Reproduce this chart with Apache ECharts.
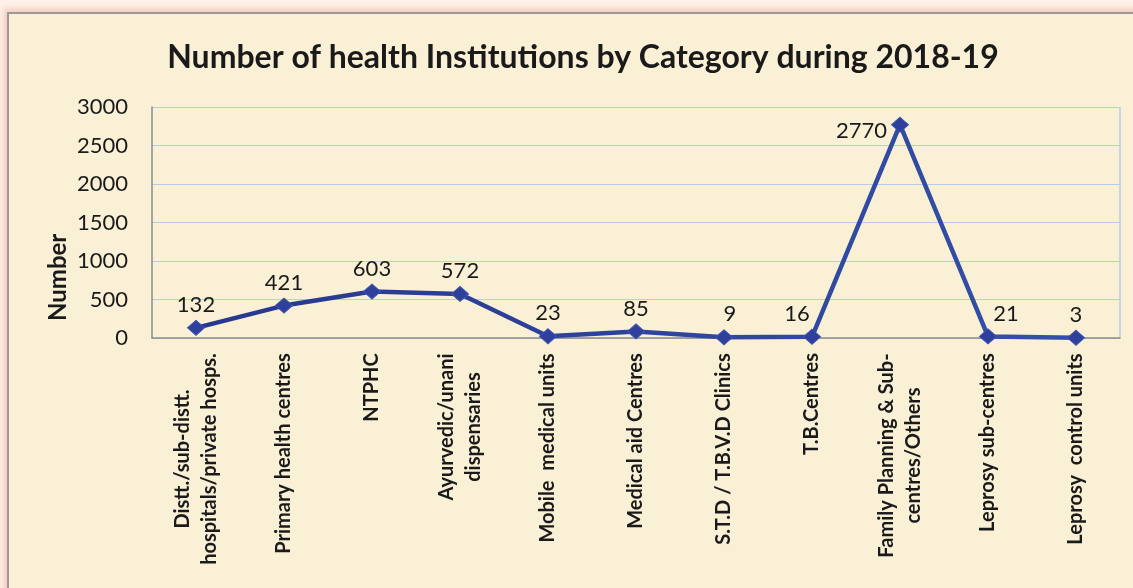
<!DOCTYPE html>
<html>
<head>
<meta charset="utf-8">
<script src="https://cdn.jsdelivr.net/npm/echarts@6/dist/echarts.min.js"></script>
<style>
  html, body { margin: 0; padding: 0; width: 1133px; height: 588px; overflow: hidden; background: #fdf1ea; }
  #frame {
    position: absolute; left: 7px; top: 12px; width: 1140px; height: 600px;
    background: #faf0d6;
    border-left: 2px solid #9a9a9a; border-top: 2px solid #9a9a9a;
    box-shadow: -3px -3px 6px rgba(240,150,120,0.45);
  }
  #chart { position: absolute; left: 0; top: 0; width: 1133px; height: 588px; }
</style>
</head>
<body>
<div id="frame"></div>
<div id="chart"></div>
<script>
// Health institutions by category, 2018-19
const categories = [
  'Distt./sub-distt.\nhospitals/private hosps.',
  'Primary health centres',
  'NTPHC',
  'Ayurvedic/unani\ndispensaries',
  'Mobile  medical units',
  'Medical aid Centres',
  'S.T.D / T.B.V.D Clinics',
  'T.B.Centres',
  'Family Planning & Sub-\ncentres/Others',
  'Leprosy sub-centres',
  'Leprosy  control units'
];
const institutions = [132, 421, 603, 572, 23, 85, 9, 16, 2770, 21, 3];
const yTicks = [0, 500, 1000, 1500, 2000, 2500, 3000];

const FONT = 'Lato';
const XL_SIZE = 20;

// Measure label lines so two-line labels can be centred line by line
const ctx = document.createElement('canvas').getContext('2d');
ctx.font = 'bold ' + XL_SIZE + 'px ' + FONT;
const rich = {};
categories.forEach((c, i) => {
  const w = Math.max(...c.split('\n').map(s => ctx.measureText(s).width));
  rich['r' + i] = { width: Math.ceil(w) + 2, align: 'center', fontWeight: 'bold',
                    fontSize: XL_SIZE, fontFamily: FONT, color: '#1a1a1a', lineHeight: 27 };
});

// Per-point label placement
const labelTweaks = {
  8: { position: 'left', distance: 4, offset: [0, 6] },
  6: { offset: [6, 0] },
  7: { offset: [-15, 0] },
  9: { offset: [18, 0] }
};

const chart = echarts.init(document.getElementById('chart'));
chart.setOption({
  backgroundColor: 'transparent',
  title: {
    text: 'Number of health Institutions by Category during 2018-19',
    left: 578, top: 37, textAlign: 'center',
    textStyle: { fontFamily: FONT, fontWeight: 'bold', fontSize: 32, color: '#1a1a1a' }
  },
  grid: { left: 152, right: 13, top: 107, bottom: 250, containLabel: false },
  xAxis: {
    type: 'category',
    data: categories,
    boundaryGap: true,
    axisLine: { lineStyle: { color: '#8c8c8c', width: 1.5 } },
    axisTick: { show: false },
    axisLabel: {
      interval: 0, rotate: 90, margin: 14,
      formatter: (v, i) => v.split('\n').map(s => '{r' + i + '|' + s + '}').join('\n'),
      rich: rich
    }
  },
  yAxis: {
    type: 'value', min: 0, max: 3000, interval: 500,
    axisLine: { show: true, lineStyle: { color: '#8c8c8c', width: 1.5 } },
    axisTick: { show: false },
    splitLine: { lineStyle: { color: '#b8cbe8', width: 1.2 } },
    axisLabel: {
      margin: 24, fontFamily: FONT, fontSize: 22, color: '#1a1a1a',
      formatter: v => yTicks.includes(v) ? String(v) : ''
    }
  },
  graphic: [
    { type: 'text', rotation: Math.PI / 2, x: 46, y: 321,
      style: { text: 'Number', font: 'bold 24px ' + FONT, fill: '#1a1a1a' } },
    { type: 'rect', shape: { x: 1120, y: 107, width: 0, height: 231 },
      style: { stroke: '#b8cbe8', lineWidth: 1.5 } }
  ],
  series: [{
    type: 'line',
    data: institutions.map((v, i) => labelTweaks[i] ? { value: v, label: labelTweaks[i] } : v),
    symbol: 'diamond',
    symbolSize: [17, 15],
    lineStyle: { width: 4.5, color: {
      type: 'linear', x: 0, y: 0, x2: 1, y2: 0,
      colorStops: [{ offset: 0, color: '#27378f' }, { offset: 1, color: '#3450a8' }] } },
    itemStyle: { color: '#2e3f9c', borderColor: '#3a52b0', borderWidth: 1 },
    label: {
      show: true, position: 'top', distance: 4,
      fontFamily: FONT, fontSize: 22, color: '#1a1a1a'
    },
    z: 5
  }]
});
</script>
</body>
</html>
